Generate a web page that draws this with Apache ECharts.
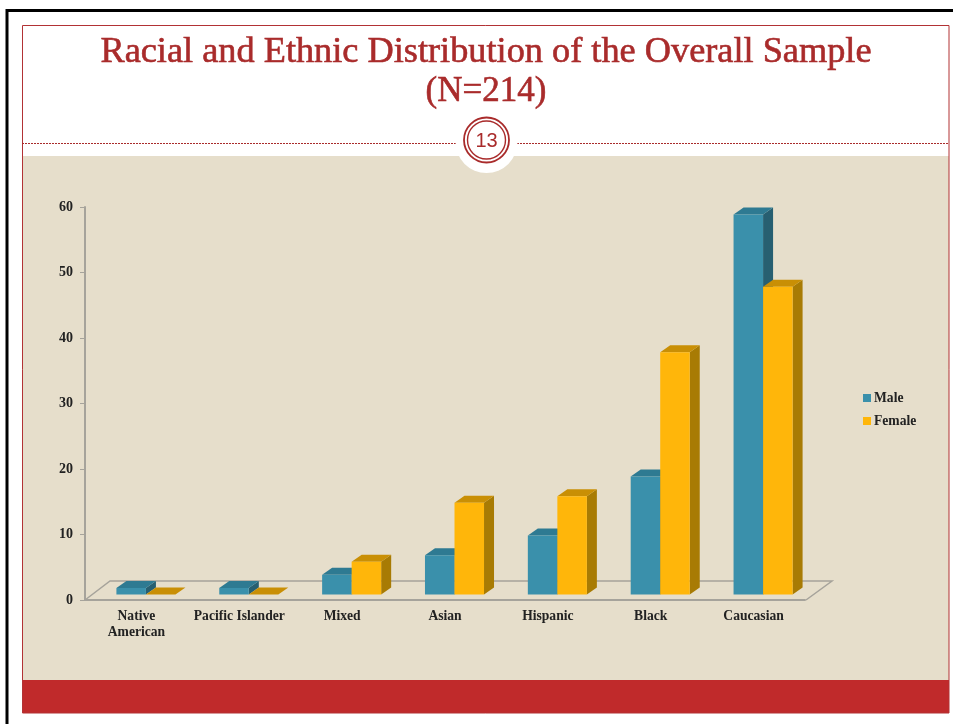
<!DOCTYPE html>
<html>
<head>
<meta charset="utf-8">
<style>html,body{margin:0;padding:0;background:#fff}#c{width:953px;height:724px}</style>
<script src="https://cdn.jsdelivr.net/npm/echarts@6/dist/echarts.min.js"></script>
</head>
<body>
<div id="c"></div>
<script>
const categories = ['Native\nAmerican', 'Pacific Islander', 'Mixed', 'Asian', 'Hispanic', 'Black', 'Caucasian'];
const male = [1, 1, 3, 6, 9, 18, 58];
const female = [0, 0, 5, 14, 15, 37, 47];
const yTicks = { min: 0, max: 60, interval: 10 };

const titleLine1 = 'Racial and Ethnic Distribution of the Overall Sample';
const titleLine2 = '(N=214)';
const pageNumber = '13';

const RED = '#a92b2b';
const BEIGE = '#e6decb';
const GREY = '#a6a39b';
const DX = 10, DY = 7, LIFT = 5.5, SHIFT = 9.5, BAR_RATIO = 0.287;

function bar3d(side, colors) {
  return function (params, api) {
    const v = api.value(1);
    const base = api.coord([api.value(0), 0]);
    const top = api.coord([api.value(0), v]);
    const w = api.size([1, 0])[0] * BAR_RATIO;
    const x0 = (side === 0 ? base[0] - w : base[0]) + SHIFT;
    const x1 = x0 + w;
    const yb = base[1] - LIFT;
    const yt = top[1] - LIFT;
    return {
      type: 'group',
      children: [
        { type: 'polygon', shape: { points: [[x1, yb], [x1 + DX, yb - DY], [x1 + DX, yt - DY], [x1, yt]] }, style: { fill: colors.side } },
        { type: 'polygon', shape: { points: [[x0, yt], [x0 + DX, yt - DY], [x1 + DX, yt - DY], [x1, yt]] }, style: { fill: colors.top } },
        { type: 'rect', shape: { x: x0, y: yt, width: w, height: yb - yt }, style: { fill: colors.front } }
      ]
    };
  };
}

const labelFont = { fontFamily: 'Liberation Serif', fontWeight: 'bold', fontSize: 13.6, color: '#222' };
const maleColors = { front: '#3a90ab', top: '#2e7a92', side: '#275f71' };
const femaleColors = { front: '#ffb60a', top: '#c98f05', side: '#a87b04' };

function titleText(text, y, size) {
  return { type: 'text', z: 5, x: 486, y: y, style: { text: text, fontFamily: 'Liberation Serif', fontSize: size, fill: RED, stroke: RED, lineWidth: 0.6, align: 'center', verticalAlign: 'middle' } };
}

const chart = echarts.init(document.getElementById('c'), null, { renderer: 'canvas' });
chart.setOption({
  animation: false,
  backgroundColor: '#fff',
  grid: { left: 85, right: 148, top: 207, bottom: 124 },
  legend: {
    orient: 'vertical', left: 858, top: 386, itemWidth: 8, itemHeight: 8, itemGap: 9,
    textStyle: Object.assign({}, labelFont, { padding: [0, 0, 0, -2] }),
    data: [{ name: 'Male', icon: 'rect' }, { name: 'Female', icon: 'rect' }]
  },
  xAxis: {
    type: 'category', data: categories,
    axisLine: { lineStyle: { color: GREY, width: 2 } },
    axisTick: { alignWithLabel: false, length: 4, lineStyle: { color: GREY, width: 1 } },
    axisLabel: Object.assign({}, labelFont, { margin: 8, lineHeight: 16, interval: 0 })
  },
  yAxis: {
    type: 'value', min: yTicks.min, max: yTicks.max, interval: yTicks.interval,
    splitLine: { show: false },
    axisLine: { show: true, lineStyle: { color: GREY, width: 2 } },
    axisTick: { show: true, length: 5, lineStyle: { color: GREY, width: 1 } },
    axisLabel: Object.assign({}, labelFont, { margin: 12, fontSize: 14 })
  },
  graphic: [
    { type: 'rect', z: -20, shape: { x: 22, y: 156, width: 927, height: 524 }, style: { fill: BEIGE } },
    { type: 'rect', z: -19, shape: { x: 22, y: 680, width: 927, height: 33 }, style: { fill: '#c02a2b' } },
    { type: 'rect', z: -18, shape: { x: 22.5, y: 25.5, width: 926.5, height: 687.5 }, style: { fill: 'none', stroke: '#b23235', lineWidth: 1 } },
    { type: 'polyline', z: -17, shape: { points: [[7, 724], [7, 10.5], [953, 10.5]] }, style: { fill: 'none', stroke: '#000', lineWidth: 3 } },
    { type: 'line', z: -16, shape: { x1: 22, y1: 143.5, x2: 949, y2: 143.5 }, style: { stroke: RED, lineWidth: 1, lineDash: [2, 1] } },
    { type: 'circle', z: -15, shape: { cx: 486.5, cy: 142, r: 31 }, style: { fill: '#fff' } },
    { type: 'circle', z: -14, shape: { cx: 486.5, cy: 140, r: 22.5 }, style: { fill: '#fff', stroke: RED, lineWidth: 1.8 } },
    { type: 'circle', z: -13, shape: { cx: 486.5, cy: 140, r: 19 }, style: { fill: '#fff', stroke: RED, lineWidth: 1.4 } },
    { type: 'text', z: -12, x: 486.5, y: 141, style: { text: pageNumber, fontFamily: 'Liberation Sans', fontSize: 20, fill: RED, align: 'center', verticalAlign: 'middle' } },
    { type: 'polyline', z: -5, shape: { points: [[85, 600], [110, 581], [832, 581], [806, 600]] }, style: { fill: 'none', stroke: GREY, lineWidth: 1.5 } },
    titleText(titleLine1, 52, 36.3),
    titleText(titleLine2, 92, 35)
  ],
  series: [
    { name: 'Male', type: 'custom', color: maleColors.front, itemStyle: { color: maleColors.front }, clip: false, encode: { x: 0, y: 1 }, renderItem: bar3d(0, maleColors), data: male.map((v, i) => [i, v]) },
    { name: 'Female', type: 'custom', color: femaleColors.front, itemStyle: { color: femaleColors.front }, clip: false, encode: { x: 0, y: 1 }, renderItem: bar3d(1, femaleColors), data: female.map((v, i) => [i, v]) }
  ]
});
</script>
</body>
</html>
